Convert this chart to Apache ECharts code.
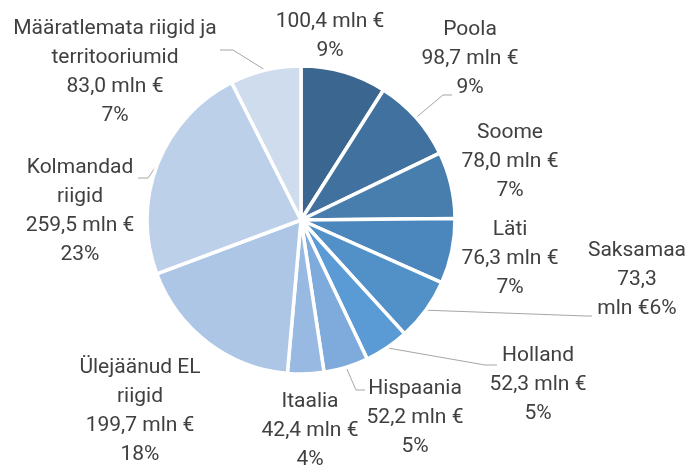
<!DOCTYPE html>
<html>
<head>
<meta charset="utf-8">
<script src="https://cdn.jsdelivr.net/npm/echarts@6.0.0/dist/echarts.min.js"></script>
<style>html,body{margin:0;padding:0;background:#fff}</style>
</head>
<body>
<div id="main" style="width:687px;height:466px"></div>
<script>
    var names = ['', 'Poola', 'Soome', 'Läti', 'Saksamaa', 'Holland', 'Hispaania', 'Itaalia',
        'Ülejäänud EL\nriigid', 'Kolmandad\nriigid', 'Määratlemata riigid ja\nterritooriumid'];
    var values = [100.4, 98.7, 78.0, 76.3, 73.3, 52.3, 52.2, 42.4, 199.7, 259.5, 83.0];
    var percents = [9, 9, 7, 7, 6, 5, 5, 4, 18, 23, 7];
    var colors = ['#3a6690', '#41729f', '#477eae', '#4b87bd', '#5290c8', '#5a9bd5',
        '#7eabdc', '#98b9e1', '#adc6e5', '#bdd0ea', '#cfdcee'];

    // label block centres and leader line bends (null = no line)
    var labelPos = [[330, 36], [470, 59], [510, 162], [510, 259], [637, 280], [538, 385],
        [415, 418], [310, 431], [140, 411], [80, 211], [115, 72]];
    var leaderBends = [null, [[443, 95], [452, 95]], null, null, [[586, 316], [592, 316]],
        [[485, 365], [497, 365]], [[356, 390], [365, 390]], null, null,
        [[148, 178], [138, 178]], [[233, 50], [220, 50]]];

    function fmt(v) {
        return v.toFixed(1).replace('.', ',');
    }

    var data = values.map(function (v, i) {
        var text = (names[i] ? names[i] + '\n' : '') + fmt(v) + ' mln €\n' + percents[i] + '%';
        if (names[i] === 'Saksamaa') {
            text = names[i] + '\n' + fmt(v) + '\nmln €' + percents[i] + '%';
        }
        return {
            name: names[i] || 'x',
            value: v,
            itemStyle: { color: colors[i] },
            label: { formatter: text },
            labelLine: { show: !!leaderBends[i] }
        };
    });

    var myChart = echarts.init(document.getElementById('main'));
    var option = {
        backgroundColor: '#fff',
        animation: false,
        series: [{
            type: 'pie',
            center: [301, 220],
            radius: [0, 154],
            startAngle: 90,
            clockwise: true,
            data: data,
            itemStyle: {
                borderColor: '#fff',
                borderWidth: 3.5
            },
            label: {
                show: true,
                position: 'outside',
                color: '#404040',
                fontFamily: 'Roboto',
                fontSize: 21,
                lineHeight: 29,
                align: 'center'
            },
            labelLine: {
                lineStyle: { color: '#a6a6a6', width: 1 },
                length: 10,
                length2: 10
            },
            labelLayout: function (p) {
                var i = p.dataIndex;
                var pos = labelPos[i];
                var res = {
                    x: pos[0],
                    y: pos[1],
                    align: 'center',
                    verticalAlign: 'middle'
                };
                var bends = leaderBends[i];
                if (bends && p.labelLinePoints) {
                    res.labelLinePoints = [p.labelLinePoints[0], bends[0], bends[1]];
                }
                return res;
            }
        }]
    };
    myChart.setOption(option);
</script>
</body>
</html>
